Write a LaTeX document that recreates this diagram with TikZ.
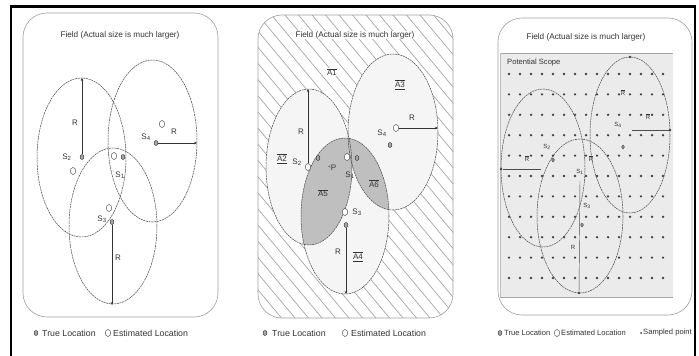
\documentclass[tikz,border=0pt]{standalone}
\usepackage{fontspec}
\setmainfont{Liberation Sans}
\usetikzlibrary{arrows.meta,shapes.geometric}
\newcommand\boxlab[1]{\vbox{\hrule height .9pt\kern.9pt\hbox{#1}\kern.9pt\hrule height .9pt}}
\newcommand\ovlab[1]{\vbox{\hrule height .5pt\kern.9pt\hbox{#1}}}
\begin{document}
\begin{tikzpicture}[x=1pt,y=-1pt,
  panel/.style={draw=gray!75, line width=0.6pt, rounded corners=24pt},
  ell/.style={draw=gray!55!black, line width=0.5pt, dash pattern=on 2pt off 0.7pt},
  truep/.style={ellipse, fill=gray!70, draw=gray!25!black, line width=0.35pt, inner sep=0pt, minimum width=3.8pt, minimum height=5pt},
  estp/.style={ellipse, fill=white, draw=gray!55!black, line width=0.45pt, inner sep=0pt, minimum width=5.5pt, minimum height=7pt},
  lab/.style={inner sep=0pt, text=black!80, font=\fontsize{8}{8}\selectfont},
  slab/.style={inner sep=0pt, text=black!80, font=\fontsize{6}{6}\selectfont},
  ttl/.style={inner sep=0pt, text=black!80, font=\fontsize{8.2}{9}\selectfont},
  leg/.style={inner sep=0pt, anchor=west, text=black!80, font=\fontsize{8.8}{9}\selectfont},
  sleg/.style={inner sep=0pt, anchor=west, text=black!80, font=\fontsize{7.6}{8}\selectfont},
  rarr/.style={line width=0.45pt, draw=black!80, -{Stealth[length=3pt,width=2.6pt]}},
  seg/.style={line width=0.45pt, draw=gray!60!black},
  sdot/.style={circle, fill=black!75, inner sep=0pt, minimum size=2.6pt},
]
\useasboundingbox (0,0) rectangle (699,356);
\fill[white] (0,0) rectangle (699,356);
% outer frame
\draw[line width=3pt] (11,6.5) -- (695,6.5);
\draw[line width=2pt] (11,5) -- (11,356);
\draw[line width=2pt] (695,5) -- (695,356);

% ================= Panel 1 =================
\draw[panel] (23,13) rectangle (218,317);
\node[ttl] (t1) at (120,35) {Field (Actual size is much larger)};
\draw[ell] (81.5,157.5) ellipse [x radius=44.5, y radius=79.5];
\draw[ell] (152.5,141) ellipse [x radius=44.5, y radius=81];
\draw[ell] (113,226) ellipse [x radius=44, y radius=78];
% S2
\node[estp] (a2e) at (73,171) {};
\node[truep] (a2t) at (82,157) {};
\node[lab] (a2l) at (67,157) {S\textsubscript{2}};
\coordinate (a2top) at (82,78);
\draw[rarr] (a2t) -- (a2top);
\node[lab] (a2r) at (75,123) {R};
% S4
\node[estp] (a4e) at (162,124) {};
\node[truep] (a4t) at (156,143) {};
\node[lab] (a4l) at (146,137) {S\textsubscript{4}};
\coordinate (a4end) at (197,143);
\draw[rarr, line width=0.8pt] (a4t) -- (a4end);
\node[lab] (a4r) at (174,132) {R};
% S1
\node[estp] (a1e) at (114,156) {};
\node[truep] (a1t) at (123,157) {};
\node[lab] (a1l) at (120,175) {S\textsubscript{1}};
% S3
\node[estp] (a3e) at (109,208) {};
\node[truep] (a3t) at (112,222) {};
\node[lab] (a3l) at (102,219) {S\textsubscript{3}};
\coordinate (a3bot) at (112,305);
\draw[rarr] (a3t) -- (a3bot);
\node[lab] (a3r) at (118,258) {R};
% legend
\node[truep] (lg1t) at (36,333) {};
\node[leg] (lg1tl) at (42,333) {True Location};
\node[estp] (lg1e) at (108,333) {};
\node[leg] (lg1el) at (113,333) {Estimated Location};

% ================= Panel 2 =================
\fill[white, rounded corners=24pt] (258,15) rectangle (453,318);
\begin{scope}
  \clip[rounded corners=24pt] (258,15) rectangle (453,318);
  \foreach \i in {-22,...,16} \draw[gray!70, line width=0.7pt] ({258+13.5*\i},15) -- ++(253,303);
\end{scope}
\fill[gray!8] (309,167) ellipse [x radius=43, y radius=78];
\fill[gray!8] (393,132) ellipse [x radius=45, y radius=78];
\fill[gray!8] (345,216) ellipse [x radius=44, y radius=78];
\begin{scope}
  \clip (345,216) ellipse [x radius=44, y radius=78];
  \fill[gray!50] (309,167) ellipse [x radius=43, y radius=78];
  \fill[gray!50] (393,132) ellipse [x radius=45, y radius=78];
\end{scope}
\draw[ell] (309,167) ellipse [x radius=43, y radius=78];
\draw[ell] (393,132) ellipse [x radius=45, y radius=78];
\draw[ell] (345,216) ellipse [x radius=44, y radius=78];
\draw[panel] (258,15) rectangle (453,318);
\node[ttl, fill=white, inner sep=0.6pt] (t2) at (355,35) {Field (Actual size is much larger)};
% labels A
\node[lab, fill=white, inner sep=0.5pt] (A1) at (332,72) {\ovlab{A1}};
\node[lab] (A2) at (282,159) {\boxlab{A2}};
\node[lab] (A3) at (400,85) {\boxlab{A3}};
\node[lab] (A4) at (358,257) {\boxlab{A4}};
\node[lab] (A5) at (323,193) {\ovlab{A5}};
\node[lab] (A6) at (374,184) {\ovlab{A6}};
% S2
\node[truep] (b2t) at (318,158) {};
\node[estp] (b2e) at (308,167) {};
\node[lab] (b2l) at (297,162) {S\textsubscript{2}};
\coordinate (b2top) at (308,89);
\draw[rarr] (b2e) -- (b2top);
\node[lab] (b2r) at (301,132) {R};
% S4
\node[truep] (b4t) at (390,145) {};
\node[estp] (b4e) at (396,128) {};
\node[lab] (b4l) at (382,133) {S\textsubscript{4}};
\coordinate (b4end) at (438,128);
\draw[rarr] (b4e) -- (b4end);
\node[lab] (b4r) at (412,118) {R};
% S1 and P
\node[estp] (b1e) at (347,157) {};
\node[truep] (b1t) at (357,158) {};
\node[lab] (b1l) at (350,175) {S\textsubscript{1}};
\node[lab] (bP) at (332,168) {\raisebox{2pt}{\fontsize{5}{5}\selectfont+}P};
% S3
\node[estp] (b3e) at (345,212) {};
\node[truep] (b3t) at (346,225) {};
\node[lab] (b3l) at (357,212) {S\textsubscript{3}};
\coordinate (b3bot) at (346,294);
\draw[rarr] (b3t) -- (b3bot);
\node[lab] (b3r) at (338,252) {R};
% legend
\node[truep] (lg2t) at (265,333) {};
\node[leg] (lg2tl) at (272,333) {True Location};
\node[estp] (lg2e) at (345,333) {};
\node[leg] (lg2el) at (351,333) {Estimated Location};

% ================= Panel 3 =================
\draw[panel] (498,18) rectangle (692,315);
\node[ttl] (t3) at (586,37) {Field (Actual size is much larger)};
\fill[gray!16] (500,53) rectangle (673,297);
\draw[gray!70, line width=1pt] (500,53) -- (673,53);
\draw[gray!70, line width=0.6pt] (500,297) -- (673,297);
\draw[gray!50, line width=0.4pt] (500,53) -- (500,297);
\node[inner sep=0pt, anchor=west, text=black!80, font=\fontsize{7.6}{8}\selectfont] (ps) at (507,63) {Potential Scope};
\foreach \j in {0,...,10} {
  \foreach \i in {0,...,14} {
    \fill[black!75] ({509+11*\i},{74+20.4*\j}) circle (1.3pt);
  }
}
\draw[ell] (543,168) ellipse [x radius=42, y radius=79];
\draw[ell] (630,135) ellipse [x radius=40, y radius=78];
\draw[ell] (580,216) ellipse [x radius=43, y radius=77];
% left circle marks
\node[sdot] (c2d) at (501,169) {};
\coordinate (c2c) at (541,169);
\draw[seg] (c2d) -- (c2c);
\node[slab] (c2r) at (527,159) {\ovlab{R}};
\node[slab] (c2l) at (547,147) {S\textsubscript{2}};
\node[truep, minimum width=2.8pt, minimum height=3.8pt] (c2t) at (553,160) {};
% middle
\node[slab] (c1l) at (580,172) {S\textsubscript{1}};
\node[slab] (c1r) at (591,159) {\ovlab{R}};
\coordinate (c3top) at (580,181);
\node[sdot] (c3d) at (579,293) {};
\draw[seg] (c3top) -- (c3d);
\node[slab] (c3l) at (587,206) {S\textsubscript{3}};
\node[truep, minimum width=2.8pt, minimum height=3.8pt] (c3t) at (582,225) {};
\node[slab] (c3r) at (573,247) {R};
% right
\node[sdot] (c4top) at (630,57) {};
\node[slab] (c4r1) at (623,93) {\ovlab{R}};
\node[slab] (c4l) at (618,125) {S\textsubscript{4}};
\node[truep, minimum width=2.8pt, minimum height=3.8pt] (c4t) at (623,147) {};
\coordinate (c4c) at (632,130);
\node[sdot] (c4d) at (670,130) {};
\draw[seg] (c4c) -- (c4d);
\node[slab] (c4r2) at (648,117) {\ovlab{R}};
% legend
\node[truep] (lg3t) at (500,333) {};
\node[sleg] (lg3tl) at (504,333) {True Location};
\node[estp] (lg3e) at (557,333) {};
\node[sleg] (lg3el) at (561,333) {Estimated Location};
\node[sdot, minimum size=2pt] (lg3s) at (641,333) {};
\node[sleg] (lg3sl) at (643,333) {Sampled point};
\end{tikzpicture}
\end{document}
